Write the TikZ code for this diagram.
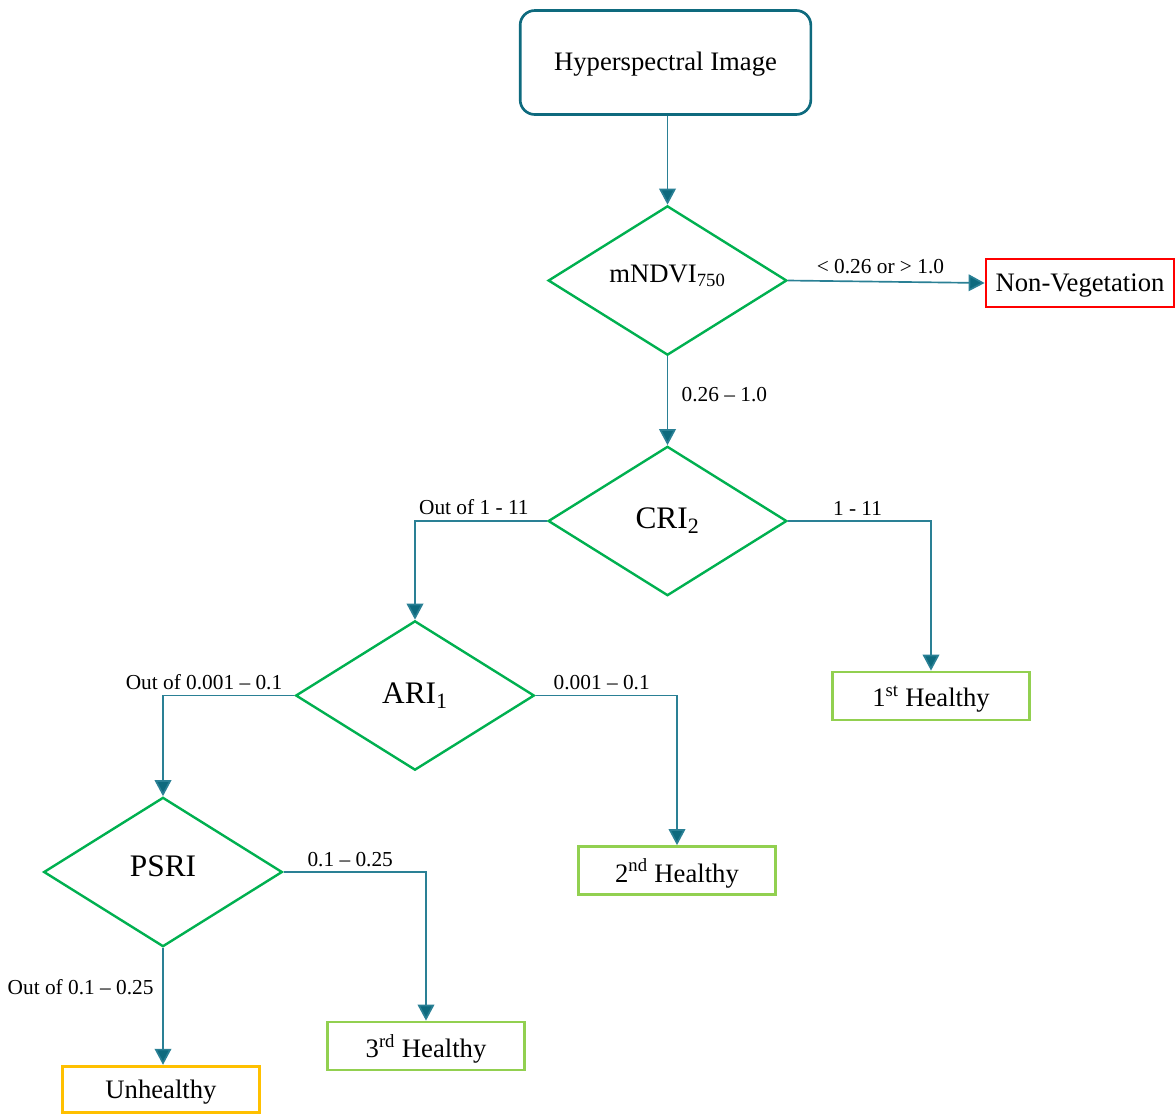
\documentclass[tikz,border=0pt]{standalone}
\usepackage{fontspec}
\setmainfont{Liberation Serif}
\usetikzlibrary{shapes.geometric,arrows.meta}
\definecolor{tealbox}{HTML}{0E6A7E}
\definecolor{tealline}{HTML}{2A8095}
\definecolor{diagreen}{HTML}{00B050}
\definecolor{lightgreen}{HTML}{92D050}
\definecolor{boxred}{HTML}{FF0000}
\definecolor{boxyellow}{HTML}{FFC000}
\tikzset{
  startbox/.style={draw=tealbox, line width=2pt, rounded corners=11pt, minimum width=218pt, minimum height=78pt, inner sep=0pt, text depth=2pt, font=\fontsize{20}{24}\selectfont},
  decision/.style={shape=diamond, draw=diagreen, line width=1.8pt, minimum width=179pt, minimum height=112pt, inner sep=0pt, aspect=1.6},
  bigtxt/.style={font=\fontsize{23.5}{28}\selectfont},
  midtxt/.style={font=\fontsize{20}{24}\selectfont},
  resultbox/.style={draw, line width=2.1pt, minimum width=148pt, minimum height=36pt, inner sep=0pt, text depth=0pt, font=\fontsize{20}{24}\selectfont},
  conn/.style={draw=tealline, line width=1.25pt, -{Triangle[width=12.5pt,length=12pt,fill=tealbox]}, color=tealline},
  lbl/.style={font=\fontsize{16}{19}\selectfont, text=black, inner sep=2pt},
}
\begin{document}
\begin{tikzpicture}[x=0.75pt,y=-0.75pt]
\useasboundingbox (0,0) rectangle (1176,1115);
\node[startbox] (hsi) at (665.5,62.5) {Hyperspectral Image};
\node[decision, midtxt, text height=13.5pt, text depth=10.8pt] (ndvi) at (667.5,280.5) {mNDVI\textsubscript{750}};
\node[resultbox, draw=boxred, minimum width=141pt] (nonveg) at (1080,283) {Non-Vegetation};
\node[decision, bigtxt] (cri) at (667.5,521) {CRI\textsubscript{2}};
\node[resultbox, draw=lightgreen] (first) at (931,696) {1\textsuperscript{st} Healthy};
\node[decision, bigtxt] (ari) at (415,695.5) {ARI\textsubscript{1}};
\node[resultbox, draw=lightgreen] (second) at (677,870.5) {2\textsuperscript{nd} Healthy};
\node[decision, bigtxt, text height=15.5pt, text depth=9pt] (psri) at (163,872) {PSRI};
\node[resultbox, draw=lightgreen] (third) at (426,1046) {3\textsuperscript{rd} Healthy};
\node[resultbox, draw=boxyellow, minimum height=35pt] (unh) at (161,1089.5) {Unhealthy};

\draw[conn] (hsi.south -| ndvi.north) -- (ndvi.north);
\draw[conn] (ndvi.east) -- node[lbl, above, pos=0.47, yshift=3pt] (l1) {< 0.26 or > 1.0} (nonveg.west);
\draw[conn] (ndvi.south) -- node[lbl, right, pos=0.43, xshift=8pt] (l2) {0.26 – 1.0} (cri.north);
\draw[conn] (cri.west) -| node[lbl, above, pos=0.277, yshift=2pt] (l3) {Out of 1 - 11} (ari.north);
\draw[conn] (cri.east) -| node[lbl, above, pos=0.243, yshift=1.5pt] (l4) {1 - 11} (first.north);
\draw[conn] (ari.west) -| node[lbl, above, pos=0.344, yshift=1.5pt] (l5) {Out of 0.001 – 0.1} (psri.north);
\draw[conn] (ari.east) -| node[lbl, above, pos=0.234, yshift=1.5pt] (l6) {0.001 – 0.1} (second.north);
\draw[conn] (psri.east) -| node[lbl, above, pos=0.234, yshift=1.5pt] (l7) {0.1 – 0.25} (third.north);
\draw[conn] (psri.south) -- node[lbl, left, pos=0.34, xshift=-4.5pt] (l8) {Out of 0.1 – 0.25} (psri.south |- unh.north);
\end{tikzpicture}
\end{document}
